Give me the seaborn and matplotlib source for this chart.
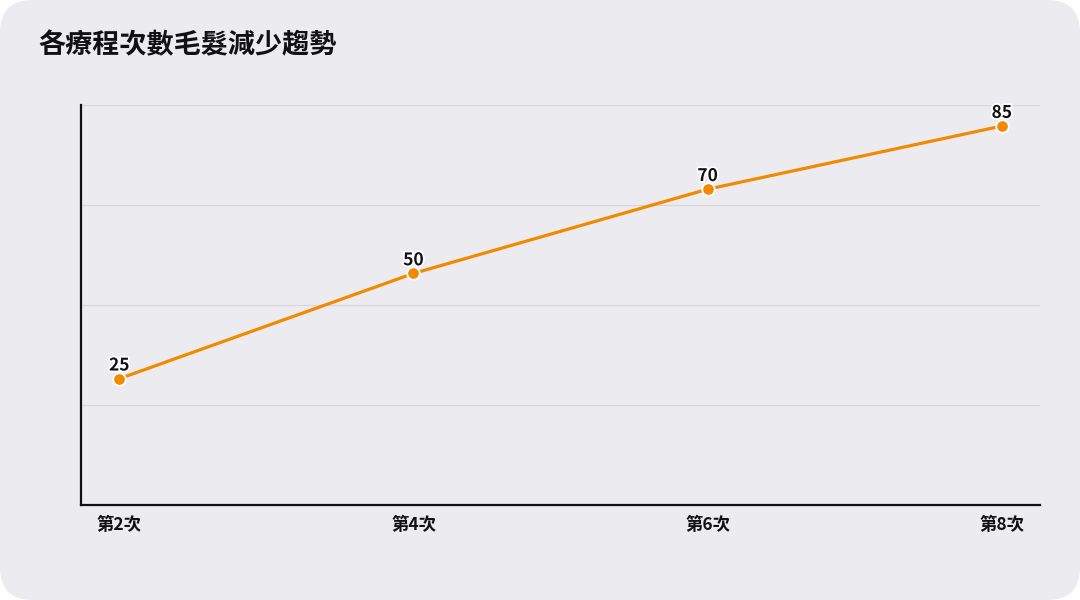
import matplotlib
matplotlib.use("Agg")
import matplotlib.pyplot as plt
import matplotlib.patheffects as pe
import seaborn as sns
import pandas as pd
import numpy as np
from matplotlib.patches import FancyBboxPatch

title = "各療程次數毛髮減少趨勢"
categories = ["第2次", "第4次", "第6次", "第8次"]
values = [25, 50, 70, 85]

sns.set_theme(style="white")
plt.rcParams['font.family'] = ['Noto Sans CJK TC', 'DejaVu Sans']

bg = "#ECEBF0"
orange = "#F28A00"

fig = plt.figure(figsize=(10.8, 6), dpi=100, facecolor="white")
fig.patches.append(FancyBboxPatch((0.0, 0.0), 1.0, 1.0, boxstyle="round,pad=0,rounding_size=0.03",
                                  transform=fig.transFigure, facecolor=bg, edgecolor="none",
                                  mutation_aspect=1.8, zorder=-10))
ax = fig.add_axes([0.075, 0.1583, 0.888, 0.6667])
ax.set_facecolor(bg)

df = pd.DataFrame({"x": np.arange(len(categories)), "v": values})
sns.lineplot(data=df, x="x", y="v", ax=ax, color=orange, linewidth=2.3, marker="o",
             markersize=9, markeredgecolor="white", markeredgewidth=1.3, zorder=3)

for xi, v in zip(df["x"], df["v"]):
    ax.annotate(str(v), (xi, v), xytext=(0, 3), textcoords="offset points",
                ha="center", va="bottom", fontsize=12.5, fontweight="bold", color="#111111",
                path_effects=[pe.withStroke(linewidth=2.5, foreground="white")], zorder=4)

ax.set_xlim(-0.13, 3.13)
ax.set_ylim(-5, 90)
ax.set_yticks(np.linspace(-5, 90, 5)[1:])
ax.set_yticklabels([])
ax.tick_params(axis="y", length=0)
ax.set_xticks(df["x"])
ax.set_xticklabels(categories, fontsize=12.5, fontweight="bold", color="#111111")
ax.tick_params(axis="x", length=0, pad=8)
ax.grid(axis="y", color="#D8D7DD", linewidth=0.9)
ax.set_xlabel("")
ax.set_ylabel("")
for s in ["top", "right"]:
    ax.spines[s].set_visible(False)
for s in ["left", "bottom"]:
    ax.spines[s].set_color("#111111")
    ax.spines[s].set_linewidth(1.6)

fig.text(38 / 1080, 1 - 45 / 600, title, fontsize=19.5, fontweight="bold", color="#111111",
         ha="left", va="center")

fig.savefig("out.png", dpi=100, facecolor="white")
